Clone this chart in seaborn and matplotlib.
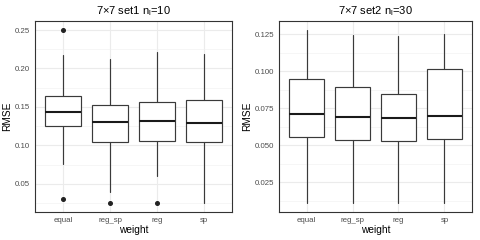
import numpy as np
import matplotlib
matplotlib.use("Agg")
from matplotlib import pyplot as plt
import seaborn as sns

weights = ['equal', 'reg_sp', 'reg', 'sp']

# box summaries: low whisker, q1, median, q3, high whisker
set1_lo = [0.0756, 0.0392, 0.0604, 0.0250]
set1_q1 = [0.1257, 0.1050, 0.1063, 0.1040]
set1_med = [0.1435, 0.1300, 0.1318, 0.1296]
set1_q3 = [0.1640, 0.1526, 0.1570, 0.1590]
set1_hi = [0.2175, 0.2120, 0.2210, 0.2190]
set1_out = [[0.250, 0.031], [0.025], [0.025], []]

set2_lo = [0.0109, 0.0109, 0.0109, 0.0109]
set2_q1 = [0.0558, 0.0536, 0.0527, 0.0545]
set2_med = [0.0709, 0.0690, 0.0684, 0.0697]
set2_q3 = [0.0949, 0.0890, 0.0846, 0.1012]
set2_hi = [0.1277, 0.1243, 0.1239, 0.1252]
set2_out = [[], [], [], []]

sns.set_theme(style="whitegrid")
plt.rcParams['font.family'] = ['Liberation Sans', 'DejaVu Sans']
plt.rcParams['mathtext.fontset'] = 'custom'
plt.rcParams['mathtext.rm'] = 'Liberation Sans'
plt.rcParams['mathtext.it'] = 'Liberation Sans'

fig = plt.figure(figsize=(4.8, 2.4), dpi=100)
ax1 = fig.add_axes([35/480, 28/240, 197/480, 191/240])
ax2 = fig.add_axes([279/480, 28/240, 193/480, 191/240])

def draw(ax, lo, q1, med, q3, hi, out, title, ylim, major, minor):
    stats = []
    for i in range(len(weights)):
        stats.append(dict(whislo=lo[i], q1=q1[i], med=med[i], q3=q3[i],
                          whishi=hi[i], fliers=out[i], label=weights[i]))
    ax.set_axisbelow(True)
    ax.bxp(stats, positions=range(1, 5), widths=0.78, showcaps=False,
           patch_artist=True,
           boxprops=dict(facecolor='white', edgecolor='#3a3a3a', lw=0.85),
           whiskerprops=dict(color='#3a3a3a', lw=0.85),
           medianprops=dict(color='#1a1a1a', lw=1.5),
           flierprops=dict(marker='o', markerfacecolor='#222222',
                           markeredgecolor='#222222', markersize=2.6))
    ax.set_xlim(0.4, 4.6)
    ax.set_ylim(*ylim)
    ax.set_yticks(major)
    ax.set_yticks(minor, minor=True)
    ax.set_xticks(range(1, 5))
    ax.set_xticklabels(weights)
    ax.grid(True, which='major', color='#EBEBEB', lw=0.8)
    ax.grid(True, which='minor', axis='y', color='#EFEFEF', lw=0.4)
    for s in ax.spines.values():
        s.set_color('#333333')
        s.set_linewidth(0.8)
    ax.tick_params(axis='both', which='major', labelsize=5.7, colors='#333333',
                   labelcolor='#4D4D4D', length=2, width=0.6, pad=1.5)
    ax.tick_params(axis='both', which='minor', length=0)
    ax.set_xlabel('weight', fontsize=7.3, labelpad=0.5, color='black')
    ax.set_ylabel('RMSE', fontsize=7.3, labelpad=2, color='black')
    ax.set_title(title, fontsize=8, pad=5, color='black')

draw(ax1, set1_lo, set1_q1, set1_med, set1_q3, set1_hi, set1_out,
     '7×7 set1 n$_\\mathregular{l}$=10', (0.0136, 0.2617),
     [0.05, 0.10, 0.15, 0.20, 0.25], [0.025, 0.075, 0.125, 0.175, 0.225])
ax1.set_yticklabels(['0.05', '0.10', '0.15', '0.20', '0.25'])
draw(ax2, set2_lo, set2_q1, set2_med, set2_q3, set2_hi, set2_out,
     '7×7 set2 n$_\\mathregular{l}$=30', (0.005, 0.1338),
     [0.025, 0.050, 0.075, 0.100, 0.125], [0.0125, 0.0375, 0.0625, 0.0875, 0.1125])
ax2.set_yticklabels(['0.025', '0.050', '0.075', '0.100', '0.125'])

fig.savefig('out.png', dpi=100)
